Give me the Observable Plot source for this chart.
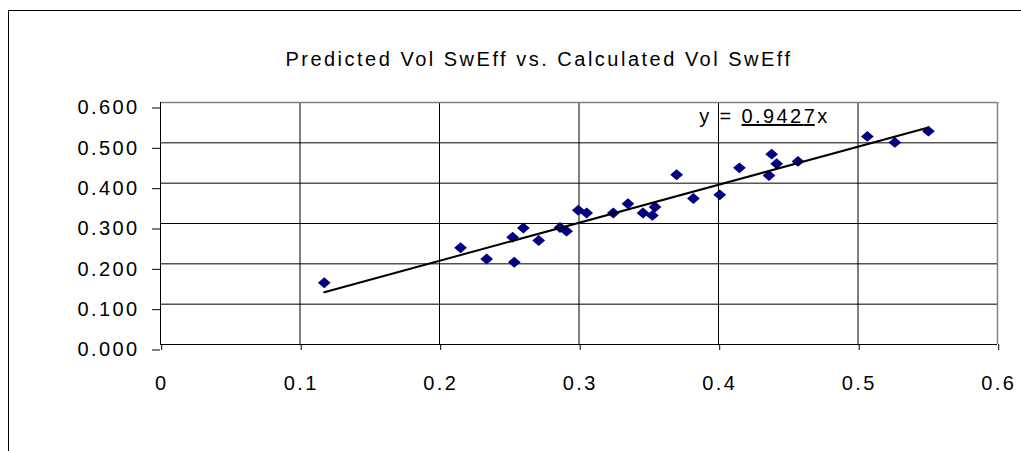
<!DOCTYPE html>
<html>
<head>
<meta charset="utf-8">
<script src="https://cdn.jsdelivr.net/npm/d3@7"></script>
<script src="https://cdn.jsdelivr.net/npm/@observablehq/plot@0.6"></script>
<style>
  html, body { margin: 0; padding: 0; background: #fff; }
  #wrap { position: relative; width: 1021px; height: 451px; overflow: hidden; }
  #frame { position: absolute; left: 8px; top: 10px; right: -2px; bottom: -2px;
           border-left: 1px solid #000; border-top: 1px solid #000; pointer-events: none; }
</style>
</head>
<body>
<div id="wrap"><div id="frame"></div></div>
<script>
// Calculated volumetric sweep efficiency (x) and predicted value (y)
const calcVol = [0.1174, 0.2151, 0.2338, 0.2524, 0.2601, 0.2536, 0.2711, 0.2864, 0.2911,
                 0.2995, 0.3055, 0.3246, 0.3351, 0.3459, 0.3526, 0.3545, 0.3700, 0.3820,
                 0.4009, 0.4150, 0.4381, 0.4417, 0.4362, 0.4570, 0.5067, 0.5264, 0.5505];
const predVol = [0.153, 0.240, 0.212, 0.266, 0.289, 0.204, 0.258, 0.290, 0.281,
                 0.333, 0.326, 0.326, 0.349, 0.326, 0.320, 0.341, 0.421, 0.362,
                 0.371, 0.438, 0.472, 0.448, 0.419, 0.454, 0.516, 0.501, 0.529];

// Linear trendline
const trendSlope = 0.9427;
const trendIntercept = 0.019;

// Axis ticks
const xTicks = [0, 0.1, 0.2, 0.3, 0.4, 0.5, 0.6];
const xTickLabels = ["0", "0.1", "0.2", "0.3", "0.4", "0.5", "0.6"];
const yTicks = [0, 0.1, 0.2, 0.3, 0.4, 0.5, 0.6];

const titleText = "Predicted Vol SwEff vs. Calculated Vol SwEff";

const points = calcVol.map((x, i) => ({x, y: predVol[i]}));
const [xMin, xMax] = d3.extent(calcVol);
const trend = [xMin, xMax].map(x => ({x, y: trendSlope * x + trendIntercept}));

// Excel-style marker: a diamond slightly wider than tall
const flatDiamond = {
  draw(ctx, size) {
    const r = Math.sqrt(size / Math.PI);
    const h = r * 0.85;
    ctx.moveTo(0, -h);
    ctx.lineTo(r, 0);
    ctx.lineTo(0, h);
    ctx.lineTo(-r, 0);
    ctx.closePath();
  }
};

const innerTicks = xTicks.filter(t => t > 0 && t < 0.6);
const innerYTicks = yTicks.filter(t => t > 0 && t < 0.6);

const chart = Plot.plot({
  width: 1021,
  height: 451,
  marginLeft: 160,
  marginRight: 24,
  marginTop: 102,
  marginBottom: 107,
  style: {fontFamily: "'Liberation Sans', Arial, sans-serif", fontSize: "20px", letterSpacing: "2.4px", color: "#000", background: "transparent"},
  x: {domain: [0, 0.6]},
  y: {domain: [0, 0.6]},
  marks: [
    // grid lines
    Plot.ruleX(innerTicks, {stroke: "#000", strokeWidth: 1}),
    Plot.ruleY(innerYTicks, {stroke: "#000", strokeWidth: 1}),
    // plot-area border: gray on top and right, black axes
    Plot.ruleX([0.6], {stroke: "#808080", strokeWidth: 1.5}),
    Plot.ruleY([0.6], {stroke: "#808080", strokeWidth: 1.5}),
    Plot.ruleX([0], {stroke: "#000", strokeWidth: 1}),
    Plot.ruleY([0], {stroke: "#000", strokeWidth: 1}),
    Plot.axisX({ticks: xTicks, tickFormat: (d, i) => xTickLabels[i], tickSize: 6, tickPadding: 25, dx: 1.2, label: null, stroke: "#000"}),
    Plot.axisY({ticks: yTicks, tickFormat: d3.format(".3f"), tickSize: 8, tickPadding: 13, dy: 5.5, label: null, stroke: "#000"}),
    // data
    Plot.dot(points, {x: "x", y: "y", symbol: flatDiamond, r: 6.4, fill: "#000080", stroke: "none"}),
    Plot.line(trend, {x: "x", y: "y", stroke: "#000", strokeWidth: 2})
  ]
});

document.getElementById("wrap").prepend(chart);

// Title and trendline equation
const svg = d3.select(chart);
const xs = chart.scale("x"), ys = chart.scale("y");

svg.append("text")
  .attr("x", 539).attr("y", 66)
  .attr("text-anchor", "middle")
  .attr("fill", "#000")
  .attr("font-size", 20)
  .attr("letter-spacing", "2.5px")
  .text(titleText);

const eq = svg.append("text")
  .attr("x", xs.apply(0.3865))
  .attr("y", ys.apply(0.548))
  .attr("text-anchor", "start")
  .attr("fill", "#000")
  .attr("font-size", 20);
const slopeText = String(trendSlope);
eq.append("tspan").text("y = ");
// underline only the coefficient, without the trailing letter gap
const coef = eq.append("tspan").attr("text-decoration", "underline");
coef.append("tspan").text(slopeText.slice(0, -1));
coef.append("tspan").attr("letter-spacing", "0px").text(slopeText.slice(-1));
eq.append("tspan").attr("dx", 2.4).text("x");
</script>
</body>
</html>
